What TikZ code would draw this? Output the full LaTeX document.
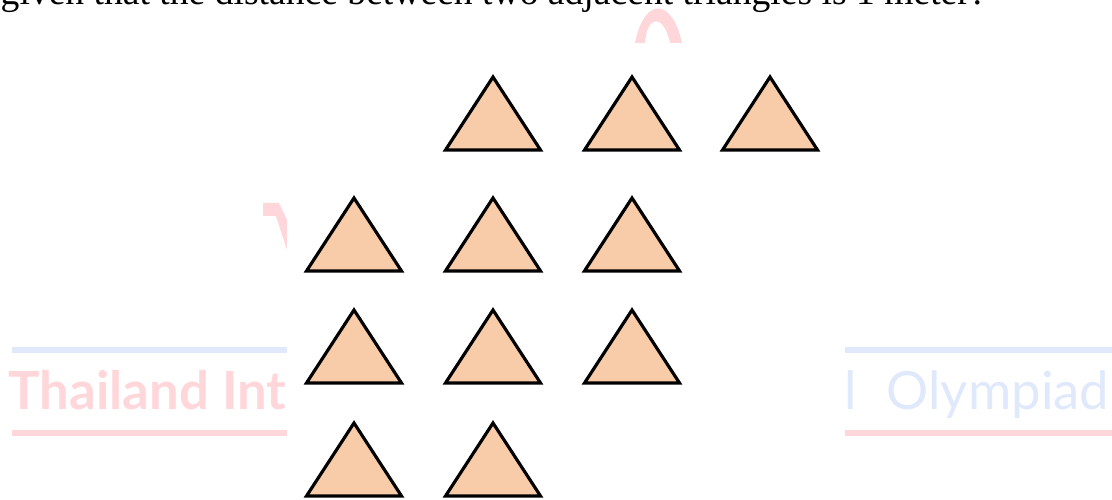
\documentclass[tikz,border=0pt]{standalone}
\usepackage{fontspec}
\setmainfont{Liberation Serif}
\newfontfamily\wmfont{Lato}
\usepackage{tikz}
\usetikzlibrary{positioning,calc}
\definecolor{triFill}{HTML}{F8CCA9}
\definecolor{wmPink}{HTML}{FFD6D9}
\definecolor{wmBlue}{HTML}{E0E9FC}
\tikzset{
  tri/.style={draw=black,fill=triFill,line width=0.9pt},
  wmline/.style={line width=0.06cm},
  wmtext/.style={inner sep=0pt,font=\wmfont\fontsize{15}{18}\selectfont}
}

\begin{document}
\begin{tikzpicture}
\useasboundingbox (0,0) rectangle (11.12,5.00);
\clip (0,0) rectangle (11.12,5.00);
% watermark behind the picture
\draw[wmline,wmBlue] (0.12,1.50) -- (11.12,1.50);
\draw[wmline,wmPink] (0.12,0.67) -- (11.12,0.67);
\node[wmtext,text=wmPink,anchor=base west] (wmleft) at (0.08,0.90) {\bfseries Thailand Int};
\node[wmtext,text=wmBlue,anchor=base east] (wmright) at (11.10,0.90) {l\hspace{0.3em} Olympiad};
\fill[wmPink] (6.35,4.57) .. controls (6.44,5.03) and (6.72,5.03) .. (6.82,4.57)
  -- (6.70,4.57) .. controls (6.64,4.86) and (6.47,4.86) .. (6.45,4.57) -- cycle;
\fill[wmPink] (2.63,2.97) -- (2.79,2.97) -- (2.87,2.80) -- (2.87,2.50) -- (2.76,2.84) -- (2.63,2.84) -- cycle;
\fill[white] (2.87,0) rectangle (8.45,4.57);
% question text, cut at the top
\node[anchor=base west,inner sep=0pt,font=\fontsize{10.7}{12}\selectfont] (question) at (0,4.95)
  {given that the distance between two adjacent triangles is 1 meter?};
% triangles: apex x / base y
\foreach \x/\y in {4.93/3.50, 6.32/3.50, 7.70/3.50,
                   3.54/2.29, 4.93/2.29, 6.32/2.29,
                   3.54/1.17, 4.93/1.17, 6.32/1.17,
                   3.54/0.04, 4.93/0.04}
  \draw[tri] (\x-0.475,\y) -- (\x+0.475,\y) -- (\x,\y+0.73) -- cycle;
\end{tikzpicture}
\end{document}
